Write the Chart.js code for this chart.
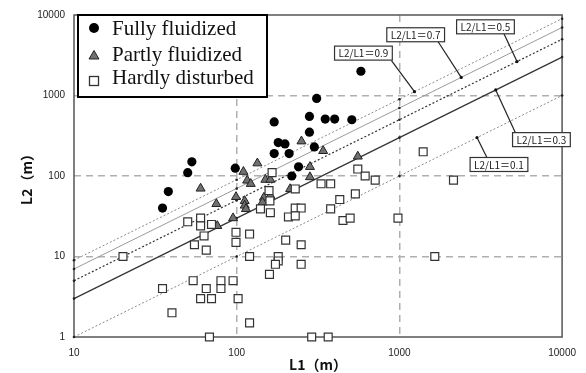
<!DOCTYPE html>
<html><head><meta charset="utf-8">
<script src="https://cdn.jsdelivr.net/npm/chart.js@4/dist/chart.umd.min.js"></script>
<style>html,body{margin:0;padding:0;background:#fff}#wrap{width:586px;height:373px}</style>
</head><body><div id="wrap"><canvas id="c" width="586" height="373"></canvas></div>
<script>
const seriesNames = ['Fully fluidized', 'Partly fluidized', 'Hardly disturbed'];
const fullyL1 = [35, 38, 50, 53, 98, 170, 180, 198, 170, 210, 280, 310, 350, 400, 510, 280, 300, 240, 218, 580];
const fullyL2 = [40, 64, 110, 150, 125, 470, 260, 250, 190, 190, 550, 920, 510, 510, 500, 350, 230, 130, 100, 2000];
const partlyL1 = [60, 75, 95, 76, 110, 116, 122, 99, 112, 112, 114, 134, 150, 161, 147, 144, 161, 213, 250, 340, 282, 282, 555];
const partlyL2 = [70, 45, 30, 24, 113, 88, 80, 55, 49, 43, 39, 144, 90, 90, 54, 47, 57, 69, 270, 205, 130, 97, 175];
const hardlyL1 = [20, 35, 40, 50, 60, 60, 70, 63, 55, 65, 99, 120, 99, 120, 54, 80, 95, 65, 80, 60, 70, 102, 120, 68, 158, 160, 140, 161, 165, 229, 330, 378, 555, 616, 710, 430, 536, 229, 249, 378, 208, 229, 450, 498, 980, 1400, 2150, 1650, 200, 249, 180, 180, 173, 249, 159, 289, 365];
const hardlyL2 = [10, 4, 2, 27, 30, 24, 25, 18, 14, 12, 20, 19, 15, 10, 5, 5, 5, 4, 4, 3, 3, 3, 1.5, 1, 66, 49, 39, 35, 110, 69, 80, 80, 122, 100, 89, 51, 60, 40, 40, 39, 31, 32, 28, 30, 30, 200, 89, 10, 16, 14, 10, 8.8, 8, 8, 6, 1, 1];
const ratios = [0.9, 0.7, 0.5, 0.3, 0.1];
const ratioLineL1 = [10, 100, 1000, 10000];
const ratioLabels = ['L2/L1＝0.9', 'L2/L1＝0.7', 'L2/L1＝0.5', 'L2/L1＝0.3', 'L2/L1＝0.1'];
const xTicks = [10, 100, 1000, 10000];
const yTicks = [1, 10, 100, 1000, 10000];
const xTitle = 'L1（m）';
const yTitle = 'L2（m）';

// label placement (in data coordinates) for the ratio call-outs
const labelPlacement = [
  {box: [601, 3362], from: [894, 2716], to: 1238},
  {box: [1259, 5684], from: [1730, 4659], to: 2399},
  {box: [3381, 7131], from: [4385, 5899], to: 5284},
  {box: [7464, 283], from: [5165, 345], to: 3908},
  {box: [4093, 139], from: [3449, 169.5], to: 2999}
];
const lineStyles = [
  {color: '#8a8a8a', width: 1, dash: [2, 2]},
  {color: '#9a9a9a', width: 1, dash: []},
  {color: '#333', width: 1.2, dash: [2, 2]},
  {color: '#333', width: 1.2, dash: []},
  {color: '#8a8a8a', width: 1, dash: [2, 2]}
];

const pts = (xs, ys) => xs.map((x, i) => ({x: x, y: ys[i]}));

const datasets = [];
datasets.push({label: seriesNames[2], data: pts(hardlyL1, hardlyL2), pointStyle: 'rect', pointRadius: 5.6,
  backgroundColor: '#fff', borderColor: '#333', borderWidth: 1.2, showLine: false, order: 0, clip: false});
datasets.push({label: seriesNames[1], data: pts(partlyL1, partlyL2), pointStyle: 'triangle', pointRadius: 5.2,
  backgroundColor: '#707070', borderColor: '#222', borderWidth: 1, showLine: false, order: 1, clip: false});
datasets.push({label: seriesNames[0], data: pts(fullyL1, fullyL2), pointStyle: 'circle', pointRadius: 4.6,
  backgroundColor: '#000', borderColor: '#000', borderWidth: 0, showLine: false, order: 2, clip: false});
ratios.forEach((r, i) => {
  const st = lineStyles[i];
  datasets.push({label: ratioLabels[i], data: ratioLineL1.map(x => ({x: x, y: r * x})), showLine: true,
    borderColor: st.color, borderWidth: st.width, borderDash: st.dash, pointRadius: 1.3,
    pointBackgroundColor: '#222', pointBorderWidth: 0, fill: false, order: 10 + i, clip: false});
});

const frameAndGrid = {
  id: 'frame',
  beforeDatasetsDraw(chart) {
    const {ctx, chartArea: a} = chart;
    ctx.save();
    ctx.strokeStyle = '#555'; ctx.lineWidth = 1.5;
    ctx.beginPath();
    ctx.moveTo(a.left, a.top); ctx.lineTo(a.right, a.top); ctx.lineTo(a.right, a.bottom);
    ctx.lineTo(a.left, a.bottom); ctx.closePath(); ctx.stroke();
    ctx.restore();
  }
};

const ratioLabelPlugin = {
  id: 'ratioLabels',
  afterDatasetsDraw(chart) {
    const {ctx} = chart; const xs = chart.scales.x, ys = chart.scales.y;
    ctx.save();
    ctx.font = '10px "Noto Sans CJK JP", "Liberation Sans", sans-serif';
    labelPlacement.forEach((p, i) => {
      const fx = xs.getPixelForValue(p.from[0]), fy = ys.getPixelForValue(p.from[1]);
      const tx = xs.getPixelForValue(p.to), ty = ys.getPixelForValue(ratios[i] * p.to);
      ctx.strokeStyle = '#222'; ctx.lineWidth = 1.2; ctx.setLineDash([]);
      ctx.beginPath(); ctx.moveTo(fx, fy); ctx.lineTo(tx, ty); ctx.stroke();
      ctx.fillStyle = '#111'; ctx.beginPath(); ctx.arc(tx, ty, 1.6, 0, Math.PI * 2); ctx.fill();
      const cx = xs.getPixelForValue(p.box[0]), cy = ys.getPixelForValue(p.box[1]);
      const tw = ctx.measureText(ratioLabels[i]).width;
      const w = tw + 8, h = 14;
      ctx.fillStyle = '#fff'; ctx.fillRect(cx - w / 2, cy - h / 2, w, h);
      ctx.strokeStyle = '#333'; ctx.lineWidth = 1.2; ctx.strokeRect(cx - w / 2, cy - h / 2, w, h);
      ctx.fillStyle = '#222'; ctx.textAlign = 'center'; ctx.textBaseline = 'middle';
      ctx.fillText(ratioLabels[i], cx, cy + 0.5);
    });
    ctx.restore();
  }
};

const boxLegend = {
  id: 'boxLegend',
  afterDraw(chart) {
    const {ctx, chartArea: a} = chart;
    const x0 = a.left + 4, y0 = a.top, w = 189, h = 82;
    ctx.save();
    ctx.fillStyle = '#fff'; ctx.fillRect(x0, y0, w, h);
    ctx.lineWidth = 2; ctx.strokeStyle = '#000'; ctx.strokeRect(x0, y0, w, h);
    const mx = x0 + 16;
    // circle
    ctx.fillStyle = '#000'; ctx.beginPath(); ctx.arc(mx, y0 + 13, 5, 0, Math.PI * 2); ctx.fill();
    // triangle
    ctx.fillStyle = '#707070'; ctx.strokeStyle = '#222'; ctx.lineWidth = 1;
    ctx.beginPath(); ctx.moveTo(mx, y0 + 35.5); ctx.lineTo(mx + 5, y0 + 44); ctx.lineTo(mx - 5, y0 + 44); ctx.closePath();
    ctx.fill(); ctx.stroke();
    // square
    ctx.fillStyle = '#fff'; ctx.strokeStyle = '#333'; ctx.lineWidth = 1.3;
    ctx.fillRect(mx - 4.5, y0 + 61.5, 9, 9); ctx.strokeRect(mx - 4.5, y0 + 61.5, 9, 9);
    ctx.fillStyle = '#111'; ctx.font = '21px "Liberation Serif", "Times New Roman", serif';
    ctx.textAlign = 'left'; ctx.textBaseline = 'alphabetic';
    ctx.fillText(seriesNames[0], x0 + 34, y0 + 20);
    ctx.fillText(seriesNames[1], x0 + 34, y0 + 45.5);
    ctx.fillText(seriesNames[2], x0 + 34, y0 + 69);
    ctx.restore();
  }
};

const gridColor = (edges) => (c) => (c.tick && edges.includes(c.tick.value)) ? 'rgba(0,0,0,0)' : '#b0b0b0';

new Chart(document.getElementById('c'), {
  type: 'scatter',
  data: {datasets: datasets},
  plugins: [frameAndGrid, ratioLabelPlugin, boxLegend],
  options: {
    responsive: false, animation: false, devicePixelRatio: 1,
    layout: {padding: {top: 13, right: 17, left: 0, bottom: 0}},
    plugins: {legend: {display: false}, tooltip: {enabled: false}},
    scales: {
      x: {
        type: 'logarithmic', min: 10, max: 10000,
        afterBuildTicks: s => { s.ticks = xTicks.map(v => ({value: v})); },
        afterFit: s => { s.height = 36; },
        ticks: {callback: v => String(v), font: {size: 10, family: '"Liberation Sans", sans-serif'}, color: '#222', padding: 10, maxRotation: 0, autoSkip: false},
        grid: {color: gridColor([10, 10000]), lineWidth: 1.5, drawTicks: false},
        border: {display: false, dash: [7, 5]},
        title: {display: true, text: xTitle, font: {size: 14, weight: 'bold', family: '"Noto Sans CJK JP", sans-serif'}, color: '#111', padding: 0}
      },
      y: {
        type: 'logarithmic', min: 1, max: 10000,
        afterBuildTicks: s => { s.ticks = yTicks.map(v => ({value: v})); },
        afterFit: s => { s.width = 74; },
        ticks: {callback: v => String(v), font: {size: 10, family: '"Liberation Sans", sans-serif'}, color: '#222', padding: 9, autoSkip: false},
        grid: {color: gridColor([1, 10000]), lineWidth: 1.5, drawTicks: false},
        border: {display: false, dash: [7, 5]},
        title: {display: true, text: yTitle, font: {size: 14, weight: 'bold', family: '"Noto Sans CJK JP", sans-serif'}, color: '#111', padding: 18}
      }
    }
  }
});
</script>
</body></html>
